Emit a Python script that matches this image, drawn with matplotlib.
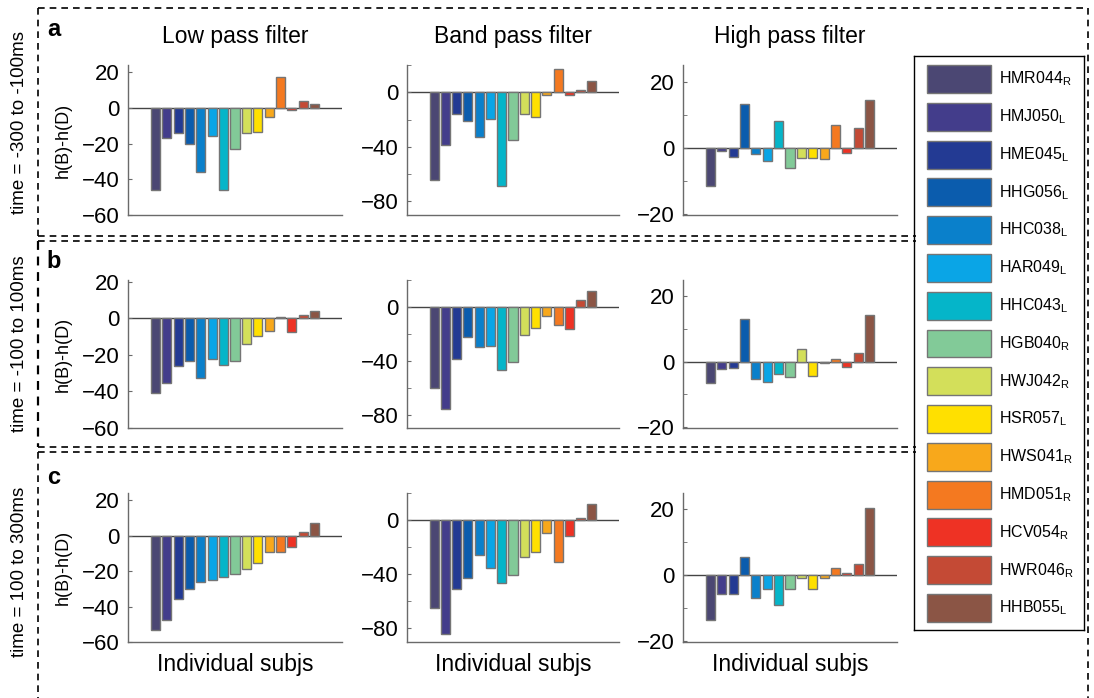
import numpy as np
import matplotlib
matplotlib.use('Agg')
import matplotlib.pyplot as plt
from matplotlib.patches import Rectangle
from matplotlib.lines import Line2D

plt.rcParams['font.family'] = ['Liberation Sans', 'DejaVu Sans']
plt.rcParams['mathtext.fontset'] = 'custom'
plt.rcParams['mathtext.rm'] = 'Liberation Sans'

subjects = ['HMR044', 'HMJ050', 'HME045', 'HHG056', 'HHC038', 'HAR049', 'HHC043', 'HGB040',
            'HWJ042', 'HSR057', 'HWS041', 'HMD051', 'HCV054', 'HWR046', 'HHB055']
hemis = ['R', 'L', 'L', 'L', 'L', 'L', 'L', 'R', 'R', 'L', 'R', 'R', 'R', 'R', 'L']
colors = ['#4b4773', '#433d8b', '#233a93', '#0b5cad', '#0a80cb', '#0aa5e6', '#05b5c9', '#82ca98',
          '#d3df5a', '#ffe000', '#f8a81b', '#f47920', '#ee3224', '#c44a35', '#8b5545']

col_titles = ['Low pass filter', 'Band pass filter', 'High pass filter']
row_labels = ['time = -300 to -100ms', 'time = -100 to 100ms', 'time = 100 to 300ms']
panel_letters = ['a', 'b', 'c']

# h(B)-h(D) per subject
low_a = [-46, -17, -14, -20, -36, -16, -46, -23, -14, -13.6, -5, 17.5, -1, 4, 2]
band_a = [-64.5, -39, -16, -21, -33, -19.5, -69, -35, -16, -18, -2, 17, -2, 2, 8.5]
high_a = [-11.5, -1, -2.7, 13.3, -2, -4, 8, -6, -3, -3.2, -3.5, 7, -1.7, 6, 14.4]

low_b = [-40.7, -35.4, -26, -23.6, -32.5, -22.3, -25.5, -23.2, -14.3, -9.5, -6.8, 0.6, -7.7, 1.8, 4]
band_b = [-60.3, -76, -38.7, -22.7, -30, -29.3, -47, -40.6, -21, -16, -7, -13.5, -16.3, 5, 11.6]
high_b = [-6.6, -2.3, -2, 13.2, -5.4, -6.2, -3.8, -4.7, 3.9, -4.3, -0.4, 0.8, -1.5, 2.6, 14.3]

low_c = [-53.2, -47.7, -35.5, -30.4, -25.9, -25, -23.4, -21.8, -18.7, -15.5, -9.5, -9.3, -6.2, 2, 7.1]
band_c = [-65, -84.4, -51.2, -42.6, -26, -35.6, -46.5, -40.8, -27.5, -23.5, -9.7, -31, -11.4, 1.2, 11.9]
high_c = [-13.6, -5.6, -5.7, 5.5, -6.9, -4.2, -9.1, -4.3, -0.9, -4.2, -0.9, 2.3, 0.8, 3.3, 20.4]

data = [[low_a, band_a, high_a], [low_b, band_b, high_b], [low_c, band_c, high_c]]

W, H = 1094, 698
fig = plt.figure(figsize=(W / 100, H / 100), dpi=100)


def fx(px):
    return px / W


def fy(py):
    return 1 - py / H


col_x = [(128, 342), (407, 619), (683, 897)]
row_y = [(65, 215), (280, 428), (493, 642)]
low_tops = [24, 21, 24]

x = np.arange(1, len(subjects) + 1)
for r in range(3):
    for c in range(3):
        x0, x1 = col_x[c]
        y0, y1 = row_y[r]
        ax = fig.add_axes([fx(x0), fy(y1), (x1 - x0) / W, (y1 - y0) / H])
        ax.axhline(0, color='#444444', lw=1, zorder=1)
        ax.bar(x, data[r][c], width=0.8, color=colors, edgecolor='#757575', linewidth=1, zorder=2)
        ax.set_xlim(-1.4, 17.4)
        if c == 0:
            ax.set_ylim(-60, low_tops[r])
            ax.set_yticks([-60, -40, -20, 0, 20])
            ax.set_ylabel('h(B)-h(D)', fontsize=13)
            ax.yaxis.set_label_coords(-0.265, 0.5)
        elif c == 1:
            ax.set_ylim(-90, 20)
            ax.set_yticks([-80, -40, 0])
            ax.set_yticks([-60, -20, 20], minor=True)
        else:
            ax.set_ylim(-20.3, 25)
            ax.set_yticks([-20, 0, 20])
            ax.set_yticks([-10, 10], minor=True)
        for s in ['top', 'right']:
            ax.spines[s].set_visible(False)
        for s in ['left', 'bottom']:
            ax.spines[s].set_color('#6a6a6a')
            ax.spines[s].set_linewidth(1)
        ax.tick_params(axis='x', bottom=False, labelbottom=False)
        ax.tick_params(axis='y', which='both', direction='in', length=3, color='#6a6a6a',
                       labelsize=16, pad=6)
        if r == 2:
            ax.set_xlabel('Individual subjs', fontsize=16.5, labelpad=8)

# column titles
for c, t in enumerate(col_titles):
    xm = (col_x[c][0] + col_x[c][1]) / 2
    fig.text(fx(xm), fy(37), t, fontsize=16.5, ha='center', va='center')

# row labels and panel letters
row_mid = [122, 344, 572]
letter_y = [30, 262, 477]
for r in range(3):
    fig.text(fx(20), fy(row_mid[r]), row_labels[r], rotation=90, fontsize=13.5,
             ha='center', va='center')
    fig.text(fx(54), fy(letter_y[r]), panel_letters[r], fontsize=17, fontweight='bold',
             ha='center', va='center')

# dashed frames
dash = (0, (4, 3))


def dline(xs, ys, lw=1.2):
    fig.add_artist(Line2D([fx(v) for v in xs], [fy(v) for v in ys], color='black',
                          lw=lw, ls=dash))


dline([38, 1088], [8, 8])
dline([1088, 1088], [8, 698])
dline([38, 38], [8, 236])
dline([38, 38], [241, 447], lw=1.6)
dline([38, 38], [452, 698])
dline([38, 916], [236, 236])
dline([38, 916], [241, 241])
dline([38, 916], [447, 447])
dline([38, 916], [452, 452])

# legend
lax = fig.add_axes([fx(914), fy(630), 170 / W, 574 / H])
lax.set_xlim(0, 1)
step = 37.8
lax.set_ylim(len(subjects) - 1 + 22 / step, -23 / step)
lax.set_xticks([])
lax.set_yticks([])
for s in lax.spines.values():
    s.set_color('black')
    s.set_linewidth(1)
for i, (name, h, col) in enumerate(zip(subjects, hemis, colors)):
    lax.add_patch(Rectangle((0.076, i - 0.37), 0.377, 0.74, facecolor=col,
                            edgecolor='#757575', linewidth=1))
    lax.text(0.5, i, name + r'$_\mathregular{' + h + '}$', fontsize=11.5,
             ha='left', va='center')

fig.savefig('out.png', dpi=100)
